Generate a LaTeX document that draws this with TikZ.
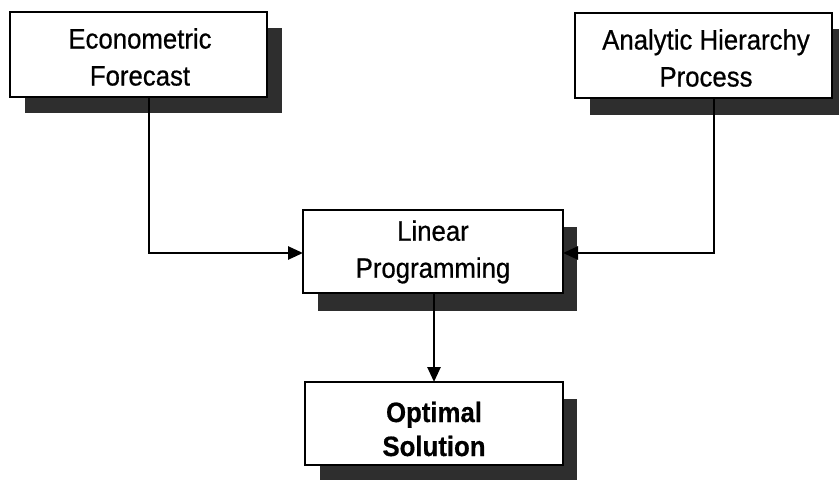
\documentclass[tikz,border=0pt]{standalone}
\usepackage{fontspec}
\setmainfont[FakeStretch=0.92,FakeBold=0.6]{Liberation Sans}
\usetikzlibrary{arrows.meta,calc}
\begin{document}
\begin{tikzpicture}[x=1pt,y=-1pt,
  shadowbox/.style={fill=black!82,draw=none},
  mainbox/.style={draw=black,line width=2.8pt,fill=white},
  boxtext/.style={font=\fontsize{28}{37}\selectfont,align=center,inner sep=0pt},
  conn/.style={line width=2.6pt,-{Triangle[length=15pt,width=13pt]}}]
\useasboundingbox (0,0) rectangle (839,482);
% shadows
\fill[shadowbox] (25,28) rectangle (282,113);
\fill[shadowbox] (590,29) rectangle (847,115);
\fill[shadowbox] (318,227) rectangle (577,311);
\fill[shadowbox] (320,399) rectangle (577,480);
% boxes
\draw[mainbox] (10,12) rectangle (267,97);
\draw[mainbox] (575,13) rectangle (832,98);
\draw[mainbox] (303,210) rectangle (563,293);
\draw[mainbox] (305,382) rectangle (563,465);
% texts
\node[boxtext] (ef) at (140,57) {Econometric\\Forecast};
\node[boxtext] (ahp) at (706,58) {Analytic Hierarchy\\Process};
\node[boxtext] (lp) at (433,252) {Linear\\Programming};
\node[boxtext,font=\fontsize{28}{34}\selectfont\bfseries] (os) at (434,429) {Optimal\\Solution};
\coordinate (efb) at (149,97);
\coordinate (ahpb) at (714,98);
\coordinate (lpw) at (303,253);
\coordinate (lpe) at (563,253);
\coordinate (lps) at (434,293);
\coordinate (ost) at (434,382);
\coordinate (c1) at (149,253);
\coordinate (c2) at (714,253);
\draw[conn] (efb) -- (c1) -- (lpw);
\draw[conn] (ahpb) -- (c2) -- (lpe);
\draw[conn] (lps) -- (ost);
\end{tikzpicture}
\end{document}
